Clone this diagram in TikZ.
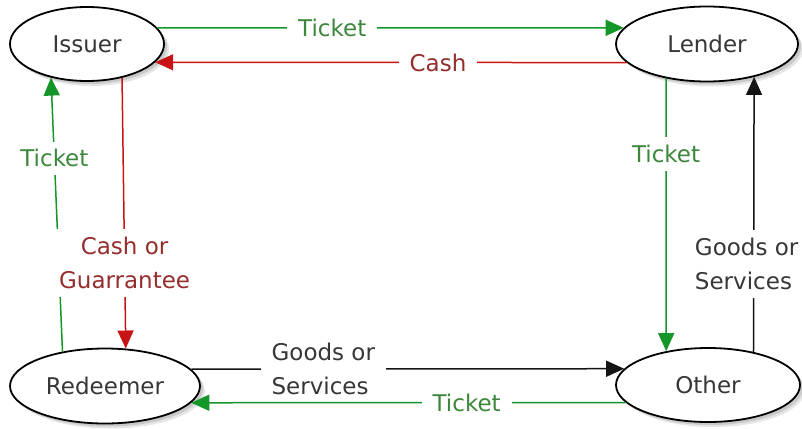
\documentclass[tikz,border=0pt]{standalone}
\usepackage{fontspec}
\setmainfont{DejaVu Sans}
\usetikzlibrary{arrows.meta,shapes.geometric,shadows}
\definecolor{grn}{RGB}{20,150,40}
\definecolor{grntxt}{RGB}{60,135,60}
\definecolor{rd}{RGB}{200,20,20}
\definecolor{rdtxt}{RGB}{150,45,45}
\definecolor{blk}{RGB}{20,20,20}
\definecolor{blktxt}{RGB}{55,55,55}
\begin{document}
\begin{tikzpicture}[x=1pt,y=-1pt,
  every node/.style={font=\fontsize{23}{34}\selectfont},
  party/.style={ellipse, draw=black, line width=1.8pt, fill=white, inner sep=0pt, text=blktxt,
     general shadow={fill=black, opacity=0.10, shadow xshift=5pt, shadow yshift=-5pt},
     general shadow={fill=black, opacity=0.12, shadow xshift=3pt, shadow yshift=-3pt}},
  flow/.style={line width=1.5pt, -{Triangle[length=18pt,width=16pt]}},
  tag/.style={fill=white, inner xsep=11pt, inner ysep=8pt}]
\useasboundingbox (0,0) rectangle (802,428);
\fill[white] (0,0) rectangle (802,428);
\node[party, minimum width=154pt, minimum height=74pt] (issuer) at (87,44) {Issuer};
\node[party, minimum width=182pt, minimum height=75pt] (lender) at (707,44) {Lender};
\node[party, minimum width=190pt, minimum height=75pt] (redeemer) at (105,386) {Redeemer};
\node[party, minimum width=184pt, minimum height=74pt] (other) at (708,385) {Other};

\draw[flow, grn] (issuer.13) -- node[tag, text=grntxt, pos=0.375] {Ticket} (lender.169);
\draw[flow, rd] (lender.193) -- node[tag, text=rdtxt, pos=0.4] {Cash} (issuer.-15);
\draw[flow, grn] (lender.220) -- node[tag, text=grntxt, pos=0.276] {Ticket} (other.141);
\draw[flow, blk] (other.36) -- node[tag, text=blktxt, align=left, pos=0.32, xshift=-7pt] {Goods or\\Services} (lender.-35);
\draw[flow, grn] (redeemer.141) -- node[tag, text=grntxt, pos=0.705] {Ticket} (issuer.223);
\draw[flow, rd] (issuer.-44) -- node[tag, text=rdtxt, align=center, pos=0.684] {Cash or\\Guarrantee} (redeemer.61);
\draw[flow, blk] (redeemer.11) -- node[tag, text=blktxt, align=left, pos=0.305] {Goods or\\Services} (other.169);
\draw[flow, grn] (other.192) -- node[tag, text=grntxt, pos=0.366] {Ticket} (redeemer.-11);
\end{tikzpicture}
\end{document}
